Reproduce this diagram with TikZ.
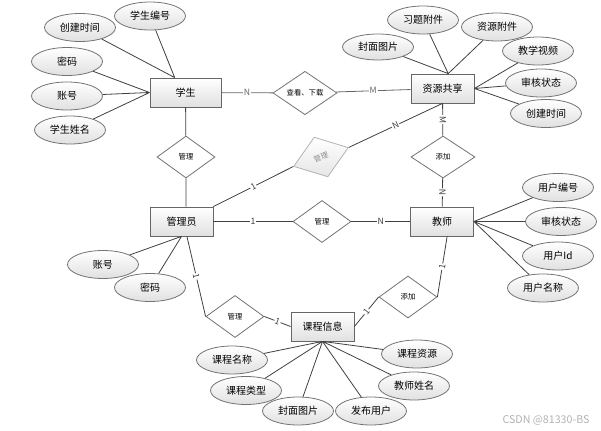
\documentclass[tikz,border=0pt]{standalone}
\usepackage{fontspec}
\setmainfont{Noto Sans CJK SC}
\usetikzlibrary{shapes.geometric}

\begin{document}
\begin{tikzpicture}[x=0.75pt,y=-0.75pt,line width=0.6pt,
  ent/.style={draw=black!60,top color=white,bottom color=black!12,minimum width=47.25pt,minimum height=21.75pt,inner sep=0pt,font=\fontsize{7.5}{8}\selectfont},
  attr/.style={ellipse,draw=black!55,top color=white,bottom color=black!12,minimum width=53.25pt,minimum height=21pt,inner sep=0pt,font=\fontsize{7.5}{8}\selectfont},
  rel/.style={diamond,draw=black!55,fill=white,minimum width=43.5pt,minimum height=31.5pt,inner sep=0pt,font=\fontsize{5.5}{6}\selectfont},
  lbl/.style={fill=white,inner sep=0.6pt,font=\fontsize{6.5}{7}\selectfont}]
  \useasboundingbox (0,0) rectangle (601,431);
  % entities
  \node[ent,minimum width=53.25pt] (stu) at (185.5,92.5) {学生};
  \node[ent] (adm) at (181.5,221.5) {管理员};
  \node[ent] (res) at (442.5,88.5) {资源共享};
  \node[ent] (tea) at (442,221.5) {教师};
  \node[ent] (crs) at (322.5,326.5) {课程信息};
  % relations
  \node[rel,minimum width=48pt] (rview) at (305,93) {查看、下载};
  \node[rel] (rmgr1) at (186,157) {管理};
  \node[rel] (rmgr2) at (322,221.5) {管理};
  \node[rel] (rmgr3) at (235,316.5) {管理};
  \node[rel,minimum width=48pt] (radd1) at (443,157) {添加};
  \node[rel] (radd2) at (408,297) {添加};
  \node[rel,rotate=19,draw=black!30,text=black!45,top color=white,bottom color=black!10] (rgray) at (321,157) {管理};
  % attributes
  \node[attr] (sno) at (150,16) {学生编号};
  \node[attr] (sct) at (80,27.5) {创建时间};
  \node[attr] (spw) at (67,61.5) {密码};
  \node[attr] (sac) at (67,96) {账号};
  \node[attr] (snm) at (70,130) {学生姓名};
  \node[attr,minimum height=19.5pt] (rcv) at (378,47) {封面图片};
  \node[attr] (rex) at (423,20) {习题附件};
  \node[attr] (rat) at (497,27) {资源附件};
  \node[attr] (rvd) at (538,51) {教学视频};
  \node[attr] (rst) at (541,83) {审核状态};
  \node[attr] (rct) at (546,113.5) {创建时间};
  \node[attr] (tno) at (558,187.5) {用户编号};
  \node[attr] (tst) at (561,221.5) {审核状态};
  \node[attr] (tid) at (558,256) {用户Id};
  \node[attr] (tnm) at (543,288) {用户名称};
  \node[attr] (dac) at (103,264.5) {账号};
  \node[attr] (dpw) at (150,287.5) {密码};
  \node[attr] (cnm) at (232,360) {课程名称};
  \node[attr] (ctp) at (246,390.5) {课程类型};
  \node[attr] (ccv) at (298,411) {封面图片};
  \node[attr] (cus) at (371,411) {发布用户};
  \node[attr] (ctn) at (414,386) {教师姓名};
  \node[attr] (csrc) at (417,354) {课程资源};
  % attribute lines
  \draw[black!75] (sno) -- (stu.126) (sct) -- (stu.126);
  \draw[black!75] (spw) -- (stu.west) (sac) -- (stu.west) (snm) -- (stu.west);
  \draw[black!75] (rcv) -- (res.69) (rex) -- (res.69) (rat) -- (res.69);
  \draw[black!75] (rvd) -- (res.east) (rst) -- (res.east) (rct) -- (res.east);
  \draw[black!75] (tno) -- (tea.east) (tst) -- (tea.east) (tid) -- (tea.east) (tnm) -- (tea.east);
  \draw[black!75] (dac) -- (adm.south) (dpw) -- (adm.south);
  \draw[black!75] (cnm) -- (crs.south) (ctp) -- (crs.south) (ccv) -- (crs.south);
  \draw[black!75] (cus) -- (crs.south) (ctn) -- (crs.south) (csrc) -- (crs.south);
  % relation lines
  \draw[black!60] (stu) -- node[lbl]{N} (rview) -- node[lbl]{M} (res);
  \draw[black!75] (stu) -- (rmgr1) -- (rmgr1.south |- adm.north);
  \draw[black!75] (adm.north east) -- node[lbl,sloped]{1} (rgray.west);
  \draw[black!75] (rgray.east) -- node[lbl,sloped]{N} (res.south);
  \draw[black!75] (res) -- node[lbl,sloped]{M} (radd1) -- node[lbl,sloped]{N} (tea);
  \draw[black!75] (adm) -- node[lbl]{1} (rmgr2) -- node[lbl]{N} (tea);
  \draw[black!75] (tea.-71) -- node[lbl,sloped]{1} (radd2.east);
  \draw[black!75] (radd2.west) -- node[lbl,sloped]{1} (crs.east);
  \draw[black!75] (adm.-70) -- node[lbl,sloped]{1} (rmgr3.west);
  \draw[black!75] (rmgr3.east) -- node[lbl,sloped]{1} (crs.west);
  \node[text=black!30,font=\fontsize{8}{8}\selectfont] (wm) at (546,420) {CSDN @81330-BS};
\end{tikzpicture}
\end{document}
